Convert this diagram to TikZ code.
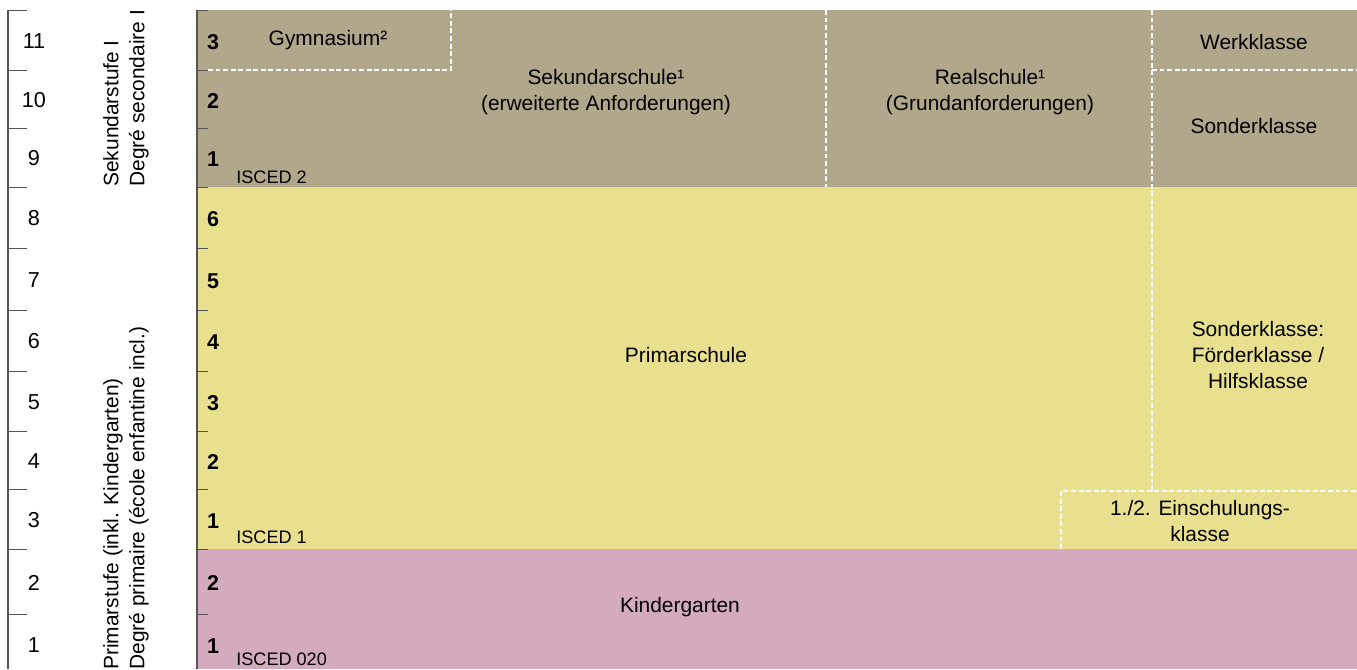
\documentclass[tikz,border=0pt]{standalone}
\usepackage{fontspec}
\setmainfont{Liberation Sans}
\usetikzlibrary{positioning}
\definecolor{SekKhaki}{RGB}{177, 168, 139}
\definecolor{PrimYellow}{RGB}{232, 224, 142}
\definecolor{KigaPink}{RGB}{212, 170, 190}
\definecolor{ScaleGray}{RGB}{85, 85, 85}

\tikzset{
  divider/.style={white, line width=0.95pt, dash pattern=on 2.8pt off 1.5pt},
  grade/.style={font=\fontsize{12.2}{14}\selectfont\bfseries, inner sep=0pt},
  isced/.style={font=\fontsize{10.3}{12}\selectfont, anchor=base west, inner sep=0pt},
  stage/.style={rotate=90, anchor=west, align=left, inner sep=0pt}
}

\begin{document}
\begin{tikzpicture}[x=0.2mm, y=-0.2mm, every node/.style={font=\fontsize{11.9}{14.8}\selectfont}]
        \useasboundingbox (0,0) rectangle (1357,669);

        % --- Colour bands ---
        \fill[SekKhaki] (197,10) rectangle (1357,187);
        \fill[PrimYellow] (197,187) rectangle (1357,549);
        \fill[KigaPink] (197,549) rectangle (1357,669);

        % --- Age scale (left) ---
        \draw[ScaleGray, thick] (8,10) -- (8,669);
        \foreach \top/\bot/\age in {10/70/11, 70/128/10, 128/187/9, 187/248/8, 248/310/7, 310/371/6,
                                    371/431/5, 431/489/4, 489/549/3, 549/614/2, 614/675/1} {
            \draw[ScaleGray] (8,\top) -- (27,\top);
            \node[font=\fontsize{12.3}{14}\selectfont] (age\age) at (34,{(\top+\bot)/2+1}) {\age};
        }

        % --- Stage titles (rotated) ---
        \node[stage] (sekstufe) at (126,187) {Sekundarstufe I\\Degré secondaire I};
        \node[stage] (primstufe) at (126,670) {Primarstufe (inkl. Kindergarten)\\Degré primaire (école enfantine incl.)};

        % --- Grade scale of the panel ---
        \draw[ScaleGray, thick] (197,10) -- (197,669);
        \foreach \top in {10,70,128,187,248,310,371,431,489,549,614} {
            \draw[ScaleGray] (197,\top) -- (208,\top);
        }
        \foreach \top/\bot/\g/\nm in {10/70/3/sek3, 70/128/2/sek2, 128/187/1/sek1,
                                      187/248/6/prim6, 248/310/5/prim5, 310/371/4/prim4,
                                      371/431/3/prim3, 431/489/2/prim2, 489/549/1/prim1,
                                      549/614/2/kiga2, 614/675/1/kiga1} {
            \node[grade] (\nm) at (213,{(\top+\bot)/2+2}) {\g};
        }
        \node[isced] (iscedtwo) at (236,183) {ISCED 2};
        \node[isced] (iscedone) at (236,543) {ISCED 1};
        \node[isced] (iscedzero) at (236,665) {ISCED 020};

        % --- Dashed dividers ---
        \draw[divider] (208,70) -- (451,70) -- (451,10);
        \draw[divider] (826,10) -- (826,187);
        \draw[divider] (1152,10) -- (1152,491);
        \draw[divider] (1152,70) -- (1357,70);
        \draw[divider] (1061,549) -- (1061,491) -- (1357,491);

        % --- School types ---
        \node (gym) at (328,40) {Gymnasium²};
        \node[align=center] (sekschule) at (606,92) {Sekundarschule¹\\(erweiterte Anforderungen)};
        \node[align=center] (realschule) at (990,92) {Realschule¹\\(Grundanforderungen)};
        \node (werk) at (1254,42) {Werkklasse};
        \node (sonder) at (1254,126) {Sonderklasse};
        \node[align=center] (foerder) at (1258,355) {Sonderklasse:\\Förderklasse /\\Hilfsklasse};
        \node (primar) at (686,355) {Primarschule};
        \node[align=center] (einsch) at (1200,521) {1./2. Einschulungs-\\klasse};
        \node (kiga) at (680,607) {Kindergarten};

    \end{tikzpicture}
\end{document}
